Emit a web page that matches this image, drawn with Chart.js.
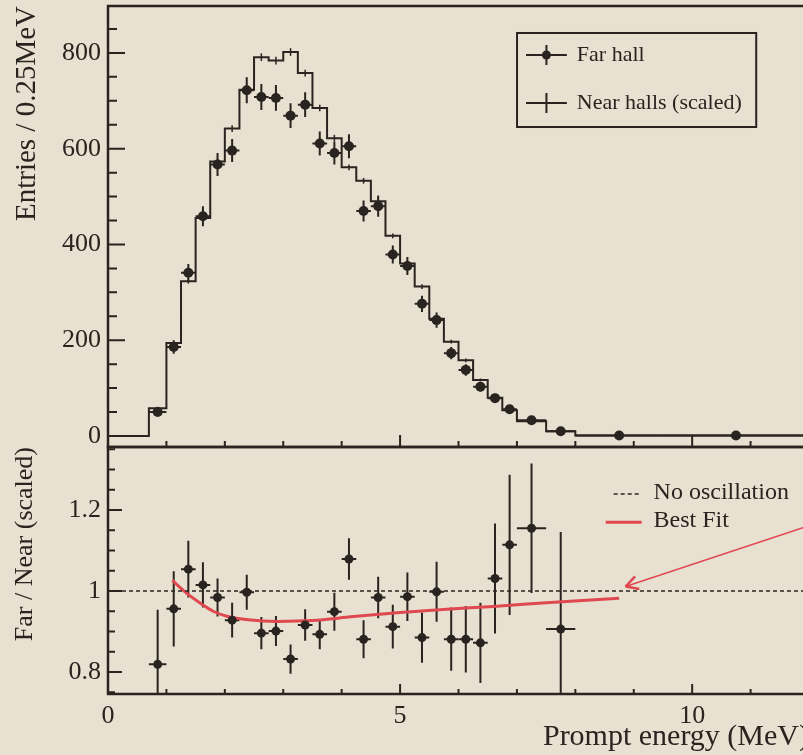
<!DOCTYPE html>
<html>
<head>
<meta charset="utf-8">
<title>Far / Near prompt energy</title>
<script src="https://cdn.jsdelivr.net/npm/chart.js@4.4.0/dist/chart.umd.min.js"></script>
<style>
  html, body { margin: 0; padding: 0; overflow: hidden; background: #e8e0d0; }
  #wrap { width: 816px; height: 755px; }
</style>
</head>
<body>
<div id="wrap"><canvas id="myChart" width="816" height="755"></canvas></div>
<script>
// bin edges of the prompt energy histogram (MeV)
const binEdges = [0.7, 1.0, 1.25, 1.5, 1.75, 2.0, 2.25, 2.5, 2.75, 3.0, 3.25, 3.5, 3.75, 4.0,
    4.25, 4.5, 4.75, 5.0, 5.25, 5.5, 5.75, 6.0, 6.25, 6.5, 6.75, 7.0, 7.5, 8.0, 9.5, 12.0];

// far hall, entries / 0.25 MeV
const farHall = [50, 186, 341, 459, 567, 596, 722, 708, 706, 669, 692, 611, 591, 605, 470,
    480, 379, 355, 276, 242, 173, 138, 103, 79, 56, 33, 10, 1, 1];
const farHallErr = [7, 14, 18, 21, 24, 24, 27, 27, 27, 26, 26, 25, 24, 25, 22,
    22, 19, 19, 17, 16, 13, 12, 10, 9, 7, 4, 2, 0.4, 0.3];

// near halls (scaled)
const nearHalls = [58, 194, 323, 455, 573, 642, 723, 791, 784, 802, 758, 685, 622, 561, 533,
    490, 418, 360, 312, 245, 197, 158, 117, 80, 54, 31, 10, 1, 1];
const nearHallsErr = [3, 4, 5, 6, 6, 7, 7, 8, 8, 8, 7, 7, 7, 6, 6,
    6, 5, 5, 5, 4, 4, 4, 3, 3, 2, 2, 1, 0.3, 0.2];

// far / near ratio (bins up to 8 MeV)
const ratio = [0.819, 0.956, 1.054, 1.015, 0.984, 0.928, 0.997, 0.896, 0.901, 0.832, 0.916,
    0.893, 0.949, 1.079, 0.881, 0.984, 0.912, 0.986, 0.885, 0.998, 0.881, 0.881, 0.872,
    1.031, 1.114, 1.155, 0.906];
const ratioErr = [0.135, 0.093, 0.07, 0.056, 0.047, 0.043, 0.043, 0.04, 0.037, 0.036, 0.039,
    0.037, 0.047, 0.051, 0.047, 0.051, 0.054, 0.06, 0.062, 0.074, 0.078, 0.082, 0.099,
    0.136, 0.173, 0.16, 0.24];

// best fit curve
const fitX = [1.1, 1.35, 1.6, 1.8, 2.05, 2.4, 2.9, 3.5, 4.2, 5.0, 5.8, 6.6, 7.5, 8.75];
const fitY = [1.026, 0.994, 0.968, 0.950, 0.937, 0.929, 0.925, 0.927, 0.937, 0.947, 0.955, 0.962, 0.971, 0.982];

// no oscillation line and the arrow
const noOscX = [0, 12];
const noOscY = [1, 1];
const arrowX = [8.86, 12];
const arrowY = [1.011, 1.161];

// tick labels
const xTickLabels = [0, 5, 10];
const topTickLabels = [0, 200, 400, 600, 800];
const bottomTickLabels = [0.8, 1, 1.2];

const ink = '#2a2420';
const red = '#e04850';
const serif = 'Liberation Serif';

Chart.defaults.font.family = serif;
Chart.defaults.color = ink;

// centres and half widths of the bins
const centers = binEdges.slice(0, -1).map((e, i) => (e + binEdges[i + 1]) / 2);
const halfWidths = binEdges.slice(0, -1).map((e, i) => (binEdges[i + 1] - e) / 2);

const histPoints = [{x: 0, y: 0}]
    .concat(nearHalls.map((v, i) => ({x: binEdges[i], y: v})))
    .concat([{x: binEdges[binEdges.length - 1], y: nearHalls[nearHalls.length - 1]}]);

function isLabel(list, v) {
    return list.some(l => Math.abs(l - v) < 1e-6);
}

// error bars drawn through the scales
const errorBars = {
    id: 'errorBars',
    beforeDatasetsDraw(chart, args, opts) {
        const ctx = chart.ctx;
        const a = chart.chartArea;
        const sx = chart.scales.x;
        ctx.save();
        ctx.beginPath();
        ctx.rect(a.left, a.top, a.width, a.height);
        ctx.clip();
        opts.sets.forEach(s => {
            const sy = chart.scales[s.axis];
            ctx.strokeStyle = ink;
            ctx.lineWidth = s.width;
            s.y.forEach((v, i) => {
                const px = sx.getPixelForValue(s.x[i]);
                const py = sy.getPixelForValue(v);
                ctx.beginPath();
                ctx.moveTo(px, sy.getPixelForValue(v - s.ey[i]));
                ctx.lineTo(px, sy.getPixelForValue(v + s.ey[i]));
                if (s.ex) {
                    ctx.moveTo(sx.getPixelForValue(s.x[i] - s.ex[i]), py);
                    ctx.lineTo(sx.getPixelForValue(s.x[i] + s.ex[i]), py);
                }
                ctx.stroke();
            });
        });
        ctx.restore();
    }
};

// ROOT-like frame, inward ticks, legends and arrow head
const rootFrame = {
    id: 'rootFrame',
    afterDraw(chart) {
        const ctx = chart.ctx;
        const sx = chart.scales.x;
        const panels = [
            {s: chart.scales.yTop, labels: topTickLabels, xMaj: 12, xMin: 6, yMaj: 17, yMin: 9},
            {s: chart.scales.yBot, labels: bottomTickLabels, xMaj: 10, xMin: 5, yMaj: 14, yMin: 7}
        ];
        ctx.save();
        ctx.strokeStyle = ink;
        panels.forEach(p => {
            const s = p.s;
            ctx.lineWidth = 2.5;
            ctx.strokeRect(sx.left, s.top, sx.right - sx.left, s.bottom - s.top);
            ctx.lineWidth = 2;
            ctx.beginPath();
            sx.ticks.forEach(t => {
                const px = sx.getPixelForValue(t.value);
                const len = isLabel(xTickLabels, t.value) ? p.xMaj : p.xMin;
                ctx.moveTo(px, s.bottom);
                ctx.lineTo(px, s.bottom - len);
            });
            s.ticks.forEach(t => {
                const py = s.getPixelForValue(t.value);
                const len = isLabel(p.labels, t.value) ? p.yMaj : p.yMin;
                ctx.moveTo(sx.left, py);
                ctx.lineTo(sx.left + len, py);
            });
            ctx.stroke();
        });

        const W = sx.right - sx.left;
        const fx = f => sx.left + f * W;
        const ds = chart.data.datasets;

        // top legend
        const t = chart.scales.yTop;
        const fyT = f => t.top + f * (t.bottom - t.top);
        ctx.lineWidth = 2;
        ctx.strokeRect(fx(0.5835), fyT(0.0612), fx(0.9247) - fx(0.5835), fyT(0.2744) - fyT(0.0612));
        ctx.font = '22px ' + serif;
        ctx.fillStyle = ink;
        ctx.textBaseline = 'middle';
        ctx.textAlign = 'left';
        [[0, 0.111, true], [1, 0.22, false]].forEach(([i, f, dot]) => {
            const y = fyT(f);
            const x0 = fx(0.5963), x1 = fx(0.6546), xc = (x0 + x1) / 2;
            ctx.beginPath();
            ctx.moveTo(x0, y); ctx.lineTo(x1, y);
            ctx.moveTo(xc, y - 10); ctx.lineTo(xc, y + 10);
            ctx.stroke();
            if (dot) {
                ctx.beginPath();
                ctx.arc(xc, y, 4.5, 0, Math.PI * 2);
                ctx.fill();
            }
            ctx.fillText(ds[i].label, fx(0.6688), y);
        });

        // bottom legend
        const b = chart.scales.yBot;
        const fyB = f => b.top + f * (b.bottom - b.top);
        ctx.font = '24px ' + serif;
        ctx.setLineDash([4, 3]);
        ctx.lineWidth = 1.5;
        ctx.beginPath();
        ctx.moveTo(fx(0.7214), fyB(0.19)); ctx.lineTo(fx(0.7612), fyB(0.19));
        ctx.stroke();
        ctx.setLineDash([]);
        ctx.fillText(ds[3].label, fx(0.7783), fyB(0.185));
        ctx.strokeStyle = red;
        ctx.lineWidth = 3;
        ctx.beginPath();
        ctx.moveTo(fx(0.7100), fyB(0.305)); ctx.lineTo(fx(0.7612), fyB(0.305));
        ctx.stroke();
        ctx.fillText(ds[4].label, fx(0.7783), fyB(0.297));

        // arrow head
        const m = chart.getDatasetMeta(5).data;
        const ang = Math.atan2(m[1].y - m[0].y, m[1].x - m[0].x);
        ctx.lineWidth = 2.5;
        ctx.beginPath();
        [-0.5, 0.5].forEach(d => {
            ctx.moveTo(m[0].x, m[0].y);
            ctx.lineTo(m[0].x + 14 * Math.cos(ang + d), m[0].y + 14 * Math.sin(ang + d));
        });
        ctx.stroke();
        ctx.restore();
    }
};

// y axes: fixed width, no extra padding for the half labels
function fixAxisY(s) {
    s.width = 108;
    s.paddingTop = 0;
    s.paddingBottom = 0;
}

const ctx = document.getElementById('myChart');

const data = {
    datasets: [{
        label: 'Far hall',
        type: 'scatter',
        yAxisID: 'yTop',
        data: farHall.map((v, i) => ({x: centers[i], y: v})),
        backgroundColor: ink,
        borderColor: ink,
        pointRadius: 5,
        pointBorderWidth: 0
    }, {
        label: 'Near halls (scaled)',
        type: 'line',
        yAxisID: 'yTop',
        data: histPoints,
        stepped: 'before',
        borderColor: ink,
        borderWidth: 2,
        pointRadius: 0,
        fill: false
    }, {
        label: 'Far / Near',
        type: 'scatter',
        yAxisID: 'yBot',
        data: ratio.map((v, i) => ({x: centers[i], y: v})),
        backgroundColor: ink,
        borderColor: ink,
        pointRadius: 4.5,
        pointBorderWidth: 0
    }, {
        label: 'No oscillation',
        type: 'line',
        yAxisID: 'yBot',
        data: noOscX.map((x, i) => ({x: x, y: noOscY[i]})),
        borderColor: ink,
        borderWidth: 1.5,
        borderDash: [4, 3],
        pointRadius: 0
    }, {
        label: 'Best Fit',
        type: 'line',
        yAxisID: 'yBot',
        data: fitX.map((x, i) => ({x: x, y: fitY[i]})),
        borderColor: red,
        borderWidth: 3,
        cubicInterpolationMode: 'monotone',
        pointRadius: 0
    }, {
        label: 'arrow',
        type: 'line',
        yAxisID: 'yBot',
        data: arrowX.map((x, i) => ({x: x, y: arrowY[i]})),
        borderColor: red,
        borderWidth: 1.5,
        pointRadius: 0
    }]
};

const config = {
    type: 'scatter',
    data: data,
    options: {
        responsive: false,
        animation: false,
        layout: {padding: {top: 6, right: 5, bottom: 0, left: 0}},
        plugins: {
            legend: {display: false},
            tooltip: {enabled: false},
            errorBars: {
                sets: [
                    {axis: 'yTop', x: centers, y: nearHalls, ey: nearHallsErr, ex: null, width: 1.5},
                    {axis: 'yTop', x: centers, y: farHall, ey: farHallErr, ex: halfWidths, width: 2},
                    {axis: 'yBot', x: centers, y: ratio, ey: ratioErr, ex: halfWidths, width: 2}
                ]
            }
        },
        scales: {
            x: {
                type: 'linear',
                min: 0,
                max: 12,
                grid: {display: false, drawTicks: false},
                border: {display: false},
                ticks: {
                    stepSize: 1,
                    autoSkip: false,
                    maxRotation: 0,
                    padding: 7,
                    font: {size: 26},
                    callback: v => isLabel(xTickLabels, v) ? String(v) : ''
                },
                title: {
                    display: true,
                    text: 'Prompt energy (MeV)',
                    align: 'end',
                    font: {size: 30},
                    padding: {top: 0, bottom: 0}
                },
                afterFit: s => { s.height = 61; }
            },
            yTop: {
                type: 'linear',
                position: 'left',
                stack: 'panels',
                stackWeight: 441,
                weight: 2,
                min: -23,
                max: 898,
                grid: {display: false, drawTicks: false},
                border: {display: false},
                ticks: {
                    stepSize: 50,
                    includeBounds: false,
                    autoSkip: false,
                    padding: 7,
                    font: {size: 26},
                    callback: v => isLabel(topTickLabels, v) ? String(v) : ''
                },
                title: {
                    display: true,
                    text: 'Entries / 0.25MeV',
                    align: 'end',
                    font: {size: 29},
                    padding: {top: 10, bottom: 0}
                },
                afterFit: fixAxisY
            },
            yBot: {
                type: 'linear',
                position: 'left',
                stack: 'panels',
                stackWeight: 247,
                weight: 1,
                min: 0.7457,
                max: 1.3556,
                grid: {display: false, drawTicks: false},
                border: {display: false},
                ticks: {
                    stepSize: 0.05,
                    includeBounds: false,
                    autoSkip: false,
                    padding: 7,
                    font: {size: 26},
                    callback: v => isLabel(bottomTickLabels, v) ? String(Math.round(v * 10) / 10) : ''
                },
                title: {
                    display: true,
                    text: 'Far / Near (scaled)',
                    align: 'end',
                    font: {size: 26},
                    padding: {top: 10, bottom: 0}
                },
                afterFit: fixAxisY
            }
        }
    },
    plugins: [errorBars, rootFrame]
};

const myChart = new Chart(ctx, config);
</script>
</body>
</html>
